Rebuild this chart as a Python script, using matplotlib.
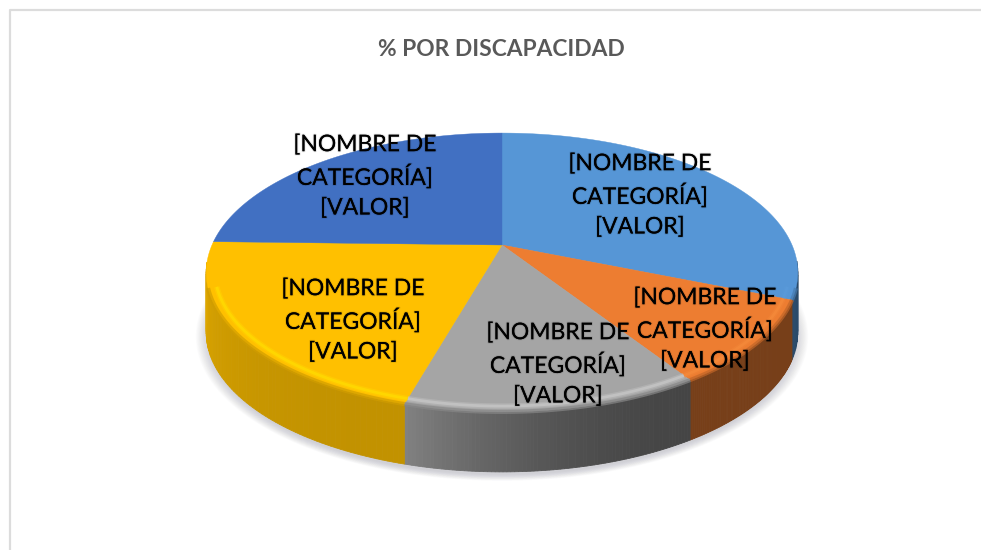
import numpy as np
import matplotlib
matplotlib.use('Agg')
import matplotlib.pyplot as plt
import matplotlib.patheffects as pe

# slices clockwise from 12 o'clock
values = [31.2, 9.7, 13.5, 21.0, 24.6]
colors = ['#5696D6', '#ED7D31', '#A5A5A5', '#FFC000', '#4170C2']
rim_colors = ['#5A9BDA', '#F58A3A', '#C8C8C8', '#FFDC00', '#4170C2']
side_shade = [(0.50, 0.42), (0.50, 0.50), (0.78, 0.42), (0.90, 0.76), (0.6, 0.6)]
labels = ['[NOMBRE DE\nCATEGORÍA]\n[VALOR]'] * 5
label_x = [640, 705, 558, 353, 365]
label_y = [195, 329, 364, 320, 176]
title = '% POR DISCAPACIDAD'

# perspective of the disc, in pixels
cx, apex_y = 502, 245
k, b, c = 0.197, -134.0, 290.0
depth = 60


def project(theta, r=1.0):
    # theta is the clockwise angle from the top, in radians
    x = r * np.sin(theta)
    y = r * np.cos(theta)
    w = 1 + k * y
    return cx + c * x / w, apex_y + b * y / w


def shade(col, f):
    rgb = np.array(matplotlib.colors.to_rgb(col))
    return tuple(rgb * f)


fig = plt.figure(figsize=(9.81, 5.5), dpi=100)
ax = fig.add_axes([0, 0, 1, 1])
ax.set_xlim(0, 981)
ax.set_ylim(550, 0)
ax.axis('off')

# chart frame, runs off the picture at right and bottom
ax.plot([10, 10, 981], [550, 10, 10], color='#DCDCDC', lw=1.6, zorder=1)

# soft shadow under the disc
t_all = np.linspace(0, 2 * np.pi, 361)
sx, sy = project(t_all)
for grow in np.linspace(1.035, 0.99, 18):
    ax.fill(cx + (sx - cx) * grow, 272 + depth + 4 + (sy - 272) * grow,
            color='#A0A0B0', alpha=0.03, lw=0, zorder=2)

edges = np.radians(np.cumsum([0] + values) / sum(values) * 360)

# side wall
for i in range(len(values)):
    th = np.linspace(edges[i], edges[i + 1], 80)
    f0, f1 = side_shade[i]
    for j in range(len(th) - 1):
        mid = (th[j] + th[j + 1]) / 2
        if np.cos(mid) > -0.12:
            continue
        frac = (j / (len(th) - 2)) ** 2
        # slices run right to left along the front, light is on the left
        f = f1 + (f0 - f1) * frac
        x0, y0 = project(th[j])
        x1, y1 = project(th[j + 1])
        ax.fill([x0, x1, x1, x0], [y0, y1, y1 + depth, y0 + depth],
                color=shade(colors[i], f), lw=0.6, zorder=3)

# top face
for i in range(len(values)):
    th = np.linspace(edges[i], edges[i + 1], 120)
    x, y = project(th)
    ax.fill(np.r_[cx, x], np.r_[apex_y, y], color=colors[i], lw=0.3, zorder=4)

# bevel on the front edge: a soft dark line on the edge, a light one just inside
for i in range(len(values)):
    th = np.linspace(edges[i], edges[i + 1], 120)
    th = th[np.cos(th) < -0.3]
    if len(th) < 2:
        continue
    x, y = project(th, 1.0)
    ax.plot(x, y, color=shade(colors[i], 0.82), lw=3, alpha=0.7, solid_capstyle='butt', zorder=5)
    x, y = project(th, 0.972)
    ax.plot(x, y, color=rim_colors[i], lw=4, alpha=0.35, solid_capstyle='butt', zorder=5)
    ax.plot(x, y, color=rim_colors[i], lw=2, alpha=0.7, solid_capstyle='butt', zorder=5)

for txt, x, y in zip(labels, label_x, label_y):
    ax.text(x, y, txt, ha='center', va='center', family='Lato', fontsize=16.5,
            color='black', linespacing=1.45, zorder=6,
            path_effects=[pe.withStroke(linewidth=1.5, foreground=(0, 0, 0, 0.1))])

ax.text(501, 49, title, ha='center', va='center', family='Lato', fontsize=16.4,
        fontweight='bold', color='#595959', zorder=6)

fig.savefig('out.png', dpi=100)
